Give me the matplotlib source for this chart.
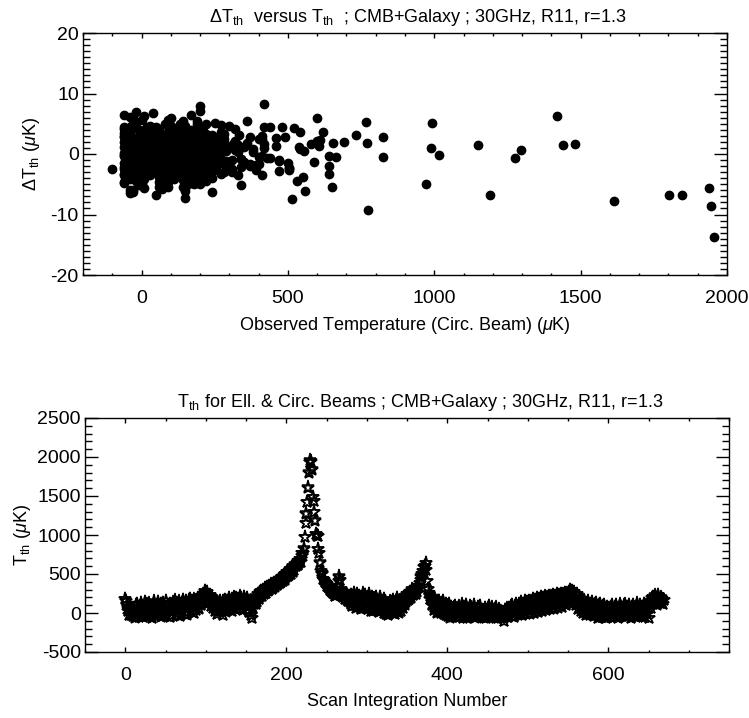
import numpy as np
import matplotlib
matplotlib.use("Agg")
import matplotlib.pyplot as plt
from matplotlib.ticker import MultipleLocator

FONT = "Liberation Sans"
plt.rcParams["font.family"] = [FONT, "DejaVu Sans"]
plt.rcParams["mathtext.fontset"] = "custom"
plt.rcParams["mathtext.rm"] = FONT
plt.rcParams["mathtext.it"] = FONT + ":italic"
plt.rcParams["mathtext.bf"] = FONT + ":bold"
plt.rcParams["axes.unicode_minus"] = False

# ---- data: T_th for the circular beam, one value per scan integration (uK)
t_circ = [
    180, 150, 120, 60, 20, -30, 40, -20, 60, 10,
    -40, 70, -60, 100, 10, 120, -30, -50, 80, 130,
    -10, 90, -50, 40, 140, 0, -40, 110, -40, 60,
    120, -20, 80, -60, 30, 100, 150, -10, -30, 50,
    90, 140, -30, 70, -40, 110, 0, 130, -20, 80,
    150, 20, -40, 100, 40, -50, 120, 70, -20, 140,
    60, 110, 160, 0, 120, -30, 80, 150, -40, 100,
    130, 30, 170, 80, -10, 150, 60, -20, 120, 170,
    90, 180, 20, 150, 100, 0, 170, 110, 40, 160,
    190, 60, 170, 220, 100, 200, 240, 150, 230, 280,
    250, 170, 270, 200, 130, 230, 150, 90, 200, 60,
    170, 60, 30, 150, -10, 130, 80, 20, 160, 40,
    110, -20, 150, 60, 170, 20, 130, 160, 40, 190,
    90, 150, 30, 180, 100, 200, 50, 160, 190, 70,
    180, 110, 210, 70, 190, 140, 40, 200, 120, 170,
    100, 190, 40, 150, 10, 160, -20, 90, -60, 60,
    110, 180, 120, 210, 150, 240, 180, 270, 210, 280,
    220, 290, 250, 270, 320, 260, 330, 290, 350, 300,
    330, 360, 310, 370, 330, 390, 340, 400, 360, 410,
    370, 420, 380, 440, 400, 460, 410, 480, 430, 500,
    460, 520, 470, 540, 490, 560, 505, 580, 530, 605,
    550, 620, 600, 640, 610, 665, 640, 690, 655, 734,
    771, 775, 826, 973, 1150, 1276, 1420, 1614, 1802, 1939,
    1956, 1945, 1846, 1481, 1440, 1297, 1191, 1017, 993, 990,
    826, 768, 652, 539, 515, 505, 440, 420, 400, 380,
    370, 350, 340, 320, 300, 290, 280, 270, 260, 250,
    290, 220, 310, 240, 340, 410, 468, 420, 310, 250,
    240, 200, 250, 180, 240, 170, 230, 150, 220, 140,
    120, 230, 90, 210, 260, 100, 190, 60, 240, 140,
    220, 80, 200, 50, 180, 250, 110, 70, 230, 100,
    190, 50, 170, 240, 80, 30, 200, 120, 20, 180,
    90, 210, 40, 170, 70, 10, 160, 200, 40, 150,
    60, 180, 0, 140, -10, 110, -30, 100, 0, 150,
    30, 140, 0, 170, 60, -10, 160, 190, 40, 130,
    10, 150, 30, 120, 180, 60, 200, 110, 220, 150,
    240, 170, 260, 180, 270, 200, 300, 230, 290, 250,
    290, 240, 320, 276, 340, 334, 390, 420, 470, 505,
    540, 590, 600, 640, 555, 410, 311, 256, 222, 180,
    200, 100, 210, 80, 40, 170, 70, 10, 150, 30,
    160, 50, 0, 130, 20, 150, -10, 100, -30, 120,
    90, -40, 110, 10, -60, 80, -10, -40, 70, -20,
    90, -40, -50, 60, -50, 80, -30, 40, 110, -30,
    -60, 70, -40, 100, -60, 50, -20, -50, 90, -40,
    70, -30, 30, 100, -60, 50, -40, 20, 80, -40,
    -30, 90, -50, 40, -50, 30, -60, 70, -60, -10,
    60, -50, 90, -50, 30, -40, 70, -20, -30, 50,
    -60, 70, -20, -60, 50, -40, 30, -60, 10, -50,
    -100, -60, 40, -40, 60, -30, -50, 70, 20, 90,
    -40, 100, 30, -50, 90, 0, 120, 50, -30, 110,
    0, 140, 60, -20, 120, 30, 150, 70, -10, 140,
    40, 160, 70, -10, 150, 40, 180, 80, 0, 170,
    50, 190, 90, 10, 180, 60, 200, 100, 30, 190,
    70, 210, 110, 40, 200, 80, 220, 130, 50, 210,
    100, 230, 130, 60, 220, 110, 240, 150, 70, 230,
    120, 250, 150, 80, 240, 130, 260, 170, 100, 250,
    140, 270, 180, 290, 200, 280, 190, 130, 270, 180,
    100, 240, 130, 50, 210, 90, 20, 180, 60, 0,
    160, 40, -20, 130, 10, 150, 30, -30, 120, -10,
    140, 20, -40, 110, -10, 130, 0, -60, 100, -30,
    110, -20, -50, 90, -40, 100, -20, -60, 80, -50,
    -50, 60, -40, 80, -50, 100, -30, -30, 80, -40,
    100, -30, -60, 60, 110, -40, 80, -40, 60, 100,
    -30, 110, -50, 80, -30, 60, 100, -30, -60, 80,
    -40, 100, -20, -30, 80, -50, 120, 50, -40, 100,
    -20, -40, 80, -40, 120, 40, -50, 100, -10, 130,
    60, -60, 150, 70, 190, 120, 210, 140, 220, 160,
    190, 110, 230, 160, 130, 200, 150, 180, 110, 170,
]

# ---- data: Delta T_th = T_th(elliptical) - T_th(circular), per scan (uK)
delta_t = [
    -1.2, 2.3, 0.4, -3.1, 1.7, -0.6, 3.9, -2.4, 0.9, -4.2,
    1.5, -0.3, 2.8, -1.9, 4.0, 0.2, -2.7, 1.1, -5.3, 3.2,
    -0.8, 2.0, -3.6, 0.6, 5.5, -1.4, 1.9, -2.2, 4.0, -0.1,
    2.6, -4.5, 0.3, 1.2, -1.7, 6.0, -3.0, 0.8, -2.5, 2.4,
    -0.9, 3.5, -2.0, 1.6, -6.0, 0.1, 2.9, -1.3, 6.9, -3.8,
    1.0, -2.6, 4.4, -0.5, 2.2, -3.9, 0.7, 3.0, -1.6, -5.5,
    2.7, -0.2, 1.4, -4.8, 3.6, -1.1, 0.5, -7.2, 2.1, -2.9,
    0.9, 4.6, -1.8, 2.5, -3.3, 1.3, -0.4, 5.1, -2.3, 0.6,
    3.1, -5.0, 1.8, -1.0, 2.4, -4.1, 6.4, -0.7, 1.2, -2.8,
    4.2, -3.4, 0.8, 2.9, -1.5, 7.9, -6.3, 1.6, -0.9, 3.3,
    -2.1, 1.0, 4.8, -3.7, 0.3, 2.6, -1.2, 5.7, -4.4, 1.5,
    -0.6, 3.4, -2.9, 0.9, -5.1, 2.2, -1.5, 4.3, -0.2, 1.8,
    -3.2, 0.5, 2.7, -4.6, 1.3, -0.8, 3.8, -2.0, 0.4, 5.0,
    -1.9, 2.1, -3.5, 0.7, 4.1, -2.6, 1.2, -0.3, 3.0, -4.0,
    0.9, -1.7, 2.5, -5.8, 1.6, 3.7, -0.9, 2.0, -2.4, 0.2,
    4.7, -3.0, 1.1, -1.3, 2.8, -4.9, 0.6, 3.2, -2.5, 1.4,
    2.1, -1.4, 0.8, 4.4, -6.1, 0.7, -1.9, -3.3, 2.4, 1.8,
    -3.8, -1.5, -2.6, 0.9, 4.1, -0.2, 1.5, -2.1, -1.3, -2.6,
    0.4, 5.4, -1.0, 2.8, -3.4, -2.6, -5.1, -0.5, 1.9, 2.5,
    -1.7, 8.2, 0.3, 4.4, 2.5, 1.3, -3.5, 4.4, -0.7, -1.5,
    2.6, 4.3, -1.0, 3.6, 2.8, -6.1, -2.6, 1.6, -4.4, 1.3,
    -3.8, 3.6, 5.9, -0.3, 2.3, -0.5, -3.3, 2.0, 1.8, 3.1,
    1.8, -9.2, 2.8, -4.9, 1.5, -0.7, 6.3, -7.7, -6.8, -5.6,
    -13.7, -8.6, -6.8, 1.6, 1.5, 0.7, -6.8, -0.2, 5.1, 1.0,
    -0.5, 5.3, -5.4, 1.2, -7.4, -2.3, -0.7, 4.4, -1.6, 0.9,
    -2.0, 1.1, -0.9, 2.2, -1.8, 0.5, -2.9, 1.4, -0.6, 2.7,
    -1.1, 0.4, -3.0, 1.9, -0.8, 2.9, -1.2, 1.7, -2.4, 0.6,
    -1.6, 2.3, -0.4, 1.0, -2.7, 3.1, -0.9, 0.2, -1.8, 1.5,
    -0.5, 2.3, -3.2, 1.6, -1.1, 4.0, -2.0, 0.7, 3.1, -4.3,
    1.3, -0.6, 2.9, -2.7, 0.4, 5.2, -1.8, 1.0, -3.6, 2.4,
    -1.2, 3.6, -0.3, 1.9, -4.8, 0.8, 2.6, -2.1, 4.5, -0.7,
    1.7, -3.3, 0.2, 2.8, -1.6, 6.2, -2.9, 0.9, -0.4, 3.5,
    -5.4, 1.1, -1.9, 3.0, 0.5, -2.4, 4.9, -0.8, 1.5, -3.1,
    2.2, -1.0, 3.8, -4.4, 0.6, 1.9, -2.2, 5.4, -1.4, 0.3,
    -3.8, 2.7, -0.5, 1.2, -2.9, 4.1, 0.1, -1.7, 3.3, -4.1,
    1.8, -0.9, 2.5, -3.4, 0.8, -1.5, 4.6, -2.6, 1.0, -0.2,
    1.2, -2.2, 0.6, -1.5, -2.1, 3.2, -1.9, 1.0, -2.8, -2.3,
    0.8, -1.4, 2.1, -2.0, 0.5, -0.4, 1.6, -2.2, 0.9, -1.1,
    2.4, -3.7, 0.9, 1.6, -1.8, 3.9, -0.4, -5.6, 2.1, 0.5,
    -2.3, 4.4, -1.0, 1.7, -3.0, 0.3, 2.9, -1.9, 5.8, -0.7,
    1.2, -4.2, 2.6, -0.8, 3.4, -2.5, 0.6, -6.4, 1.9, -1.3,
    3.7, 0.4, -2.8, 1.5, -0.9, 4.9, -3.5, 2.0, -1.6, 0.8,
    -4.7, 2.3, -0.2, 3.1, -2.2, 1.0, 5.3, -1.1, 0.7, -3.9,
    2.0, -0.5, 1.4, -2.9, 4.2, -1.7, 0.3, 2.5, -5.2, 1.1,
    -1.4, 3.3, -3.1, 0.9, 1.8, -0.6, 6.5, -2.4, 0.2, -1.9,
    2.7, -4.0, 1.3, -0.3, 3.6, -2.7, 0.8, 1.9, -1.2, 4.0,
    -3.3, 0.6, 2.2, -1.5, -6.7, 1.4, -0.8, 3.0, -2.0, 0.1,
    -2.5, 4.5, -1.1, 2.3, -3.8, 0.7, 1.6, -0.4, 3.8, -4.6,
    1.0, -1.8, 2.9, -3.0, 0.5, 5.6, -2.3, 1.2, -0.7, 2.1,
    -4.4, 0.9, 3.2, -1.3, 1.7, -2.6, 4.7, -0.2, 0.4, -3.4,
    2.5, -1.6, 0.8, 3.9, -5.0, 1.5, -0.9, 2.2, -2.1, 0.6,
    4.3, -3.2, 1.1, -0.4, 2.6, -1.7, 7.1, -2.8, 0.3, 1.4,
    -3.6, 2.0, -0.6, 3.5, -1.4, 0.9, -4.5, 1.8, -0.1, 2.9,
    -2.2, 0.5, 4.1, -3.1, 1.6, -0.7, 2.3, -5.7, 1.0, -1.5,
    3.4, -2.4, 0.7, 1.9, -3.9, 5.0, -0.3, 2.6, -1.8, 0.2,
    -1.1, 3.7, -4.3, 1.3, -0.5, 2.4, -2.7, 4.6, 0.1, -3.2,
    1.9, -0.8, 2.8, -2.0, 0.4, -5.4, 3.1, -1.3, 1.5, -0.1,
    4.0, -2.6, 0.6, 1.8, -3.5, 2.2, -0.9, 5.9, -1.6, 0.3,
    -2.9, 1.2, 3.6, -4.1, 0.8, -1.2, 2.5, -0.4, 4.4, -3.3,
    1.6, -0.6, 2.0, -2.3, 6.1, -1.5, 0.5, -4.8, 1.3, 2.7,
    -1.9, 0.4, 3.3, -3.0, 1.1, -0.7, 2.4, -5.9, 0.9, 1.8,
    -2.4, 4.8, -0.2, 1.5, -3.7, 2.6, -1.0, 0.7, 3.0, -4.2,
    1.4, -1.6, 2.1, -0.5, 5.4, -2.8, 0.3, 1.9, -3.4, 0.8,
    3.7, -2.1, 0.6, -6.2, 1.7, -0.4, 2.9, -1.7, 4.3, -2.9,
    0.2, 1.6, -3.9, 2.4, -0.8, 6.7, -1.4, 0.9, -2.5, 3.1,
    -1.2, 2.0, -4.7, 0.5, 3.5, -0.3, 1.3, -2.2, 4.9, -1.0,
    0.7, -3.6, 2.3, -0.9, 1.4, -5.0, 3.0, -1.8, 0.6, 2.2,
]

top_title = r"$\Delta$T$_{\rm th}$  versus T$_{\rm th}$  ; CMB+Galaxy ; 30GHz, R11, r=1.3"
top_xlabel = r"Observed Temperature (Circ. Beam) ($\mu$K)"
top_ylabel = r"$\Delta$T$_{\rm th}$ ($\mu$K)"
bot_title = r"T$_{\rm th}$ for Ell. & Circ. Beams ; CMB+Galaxy ; 30GHz, R11, r=1.3"
bot_xlabel = "Scan Integration Number"
bot_ylabel = r"T$_{\rm th}$ ($\mu$K)"

t_circ = np.array(t_circ, dtype=float)
delta_t = np.array(delta_t, dtype=float)
t_ell = t_circ + delta_t
scan = np.arange(len(t_circ))

W, H = 749, 718
fig = plt.figure(figsize=(W / 100, H / 100), dpi=100)

def px_axes(l, t, r, b):
    return fig.add_axes([l / W, 1 - b / H, (r - l) / W, (b - t) / H])

ax1 = px_axes(83, 33, 727, 275)
ax2 = px_axes(85, 418, 729, 652)

FS = 14
for ax in (ax1, ax2):
    ax.tick_params(which="both", direction="in", top=True, right=True,
                   labelsize=FS, width=1.0)
    ax.tick_params(axis="y", which="major", length=9.5, pad=3)
    ax.tick_params(axis="y", which="minor", length=4.8)
    ax.tick_params(axis="x", which="major", length=3.6, pad=10.5)
    ax.tick_params(axis="x", which="minor", length=1.8)
    for s in ax.spines.values():
        s.set_linewidth(1.0)

# top panel
ax1.plot(t_circ, delta_t, linestyle="none", marker="o", ms=6,
         color="black", mec="black")
ax1.set_xlim(-200, 2000)
ax1.set_ylim(-20, 20)
ax1.xaxis.set_major_locator(MultipleLocator(500))
ax1.xaxis.set_minor_locator(MultipleLocator(100))
ax1.yaxis.set_major_locator(MultipleLocator(10))
ax1.yaxis.set_minor_locator(MultipleLocator(1))
ax1.set_title(top_title, fontsize=13, pad=8, x=0.52)
ax1.set_xlabel(top_xlabel, fontsize=13, labelpad=6)
ax1.set_ylabel(top_ylabel, fontsize=13, labelpad=6)

# bottom panel
for series in (t_ell, t_circ):
    ax2.plot(scan, series, linestyle="none", marker="*", ms=9.5,
             mfc="none", mec="black", mew=1.1)
ax2.set_xlim(-50, 750)
ax2.set_ylim(-500, 2500)
ax2.xaxis.set_major_locator(MultipleLocator(200))
ax2.xaxis.set_minor_locator(MultipleLocator(50))
ax2.yaxis.set_major_locator(MultipleLocator(500))
ax2.yaxis.set_minor_locator(MultipleLocator(100))
ax2.set_title(bot_title, fontsize=13, pad=8, x=0.52)
ax2.set_xlabel(bot_xlabel, fontsize=13, labelpad=7)
ax2.set_ylabel(bot_ylabel, fontsize=13, labelpad=3)

fig.savefig("out.png", dpi=100)
